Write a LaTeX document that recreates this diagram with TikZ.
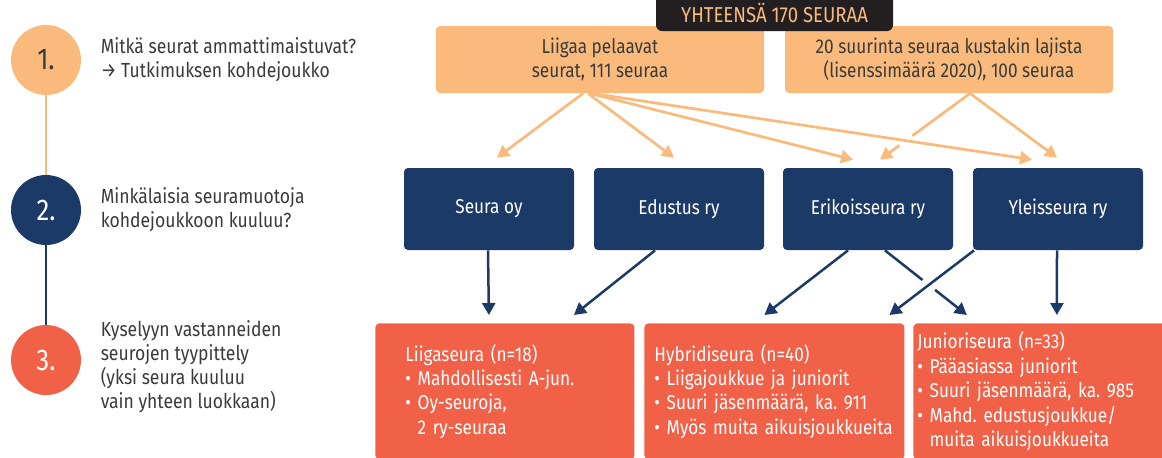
\documentclass[tikz,border=0pt]{standalone}
\usepackage{fontspec}
\setmainfont{Fira Sans}[FakeStretch=0.86]
\usetikzlibrary{positioning, calc, intersections, arrows.meta}

\definecolor{peach}{HTML}{F9BA7C}
\definecolor{navy}{HTML}{1C3A68}
\definecolor{coral}{HTML}{F06148}
\definecolor{ink}{HTML}{231F20}
\definecolor{textgray}{HTML}{3A3A3A}

\begin{document}
\frenchspacing
\begin{tikzpicture}[x=0.5pt, y=-0.5pt,
    stepdot/.style={circle, minimum size=35pt, inner sep=0pt, font=\fontsize{15}{15}\selectfont},
    steptext/.style={inner sep=0pt, align=left, text=textgray, font=\fontsize{10.2}{12}\selectfont},
    sourcebox/.style={fill=peach, rounded corners=2pt, minimum width=164pt, minimum height=33.5pt,
      align=center, text=textgray, font=\fontsize{10}{12}\selectfont},
    formbox/.style={fill=navy, rounded corners=2pt, minimum width=85pt, minimum height=41pt,
      text=white, font=\fontsize{10}{12}\selectfont},
    typebox/.style={fill=coral, rounded corners=2pt, minimum height=68pt, anchor=north west,
      align=left, text=white, font=\fontsize{10}{12.2}\selectfont},
    peacharrow/.style={draw=peach, line width=1.35pt, -{Triangle[length=6pt, width=6.5pt]}},
    navyarrow/.style={draw=navy, line width=1.25pt, -{Triangle[length=6pt, width=6.5pt]}}
  ]
    \useasboundingbox (0,0) rectangle (1162,457);
    \clip (0,0) rectangle (1162,457);

    % left column
    \node [stepdot, fill=peach, text=textgray] (one) at (46,60) {1.};
    \node [stepdot, fill=navy, text=white] (two) at (46,210) {2.};
    \node [stepdot, fill=coral, text=white] (three) at (46,360) {3.};
    \draw [peach, line width=1pt] (one) to (two);
    \draw [navy, line width=1pt] (two) to (three);

    \node [steptext, right=9.5pt of one] (onetext) {Mitkä seurat ammattimaistuvat?\\→ Tutkimuksen kohdejoukko};
    \node [steptext, right=9.5pt of two] (twotext) {Minkälaisia seuramuotoja\\kohdejoukkoon kuuluu?};
    \node [steptext, right=9.5pt of three, yshift=-3.5pt] (threetext) {Kyselyyn vastanneiden\\seurojen tyypittely\\(yksi seura kuuluu\\vain yhteen luokkaan)};

    % sources
    \node [sourcebox] (liigat) at (600,59.5) {Liigaa pelaavat\\seurat, 111 seuraa};
    \node [sourcebox] (suurimmat) at (949,59.5) {20 suurinta seuraa kustakin lajista\\(lisenssimäärä 2020), 100 seuraa};
    \node [fill=ink, rounded corners=3pt, minimum width=118.5pt, minimum height=18pt, text=peach,
      font=\fontsize{10.8}{12}\selectfont] (yhteensa) at (774.5,13) {YHTEENSÄ 170 SEURAA};

    % club forms
    \node [formbox] (seuraoy) at (489,209) {Seura oy};
    \node [formbox] (edustus) at (679,209) {Edustus ry};
    \node [formbox] (erikois) at (868,209) {Erikoisseura ry};
    \node [formbox] (yleis) at (1058,209) {Yleisseura ry};

    % types
    \node [typebox, text width=99.5pt, inner xsep=15pt] (liigaseura) at (375,323)
      {Liigaseura (n=18)\\• Mahdollisesti A-jun.\\• Oy-seuroja,\\\hphantom{• }2 ry-seuraa};
    \node [typebox, text width=120pt, inner xsep=5pt] (hybridi) at (644,323)
      {Hybridiseura (n=40)\\• Liigajoukkue ja juniorit\\• Suuri jäsenmäärä, ka. 911\\• Myös muita aikuisjoukkueita};
    \node [typebox, text width=125.5pt, inner xsep=2pt] (juniori) at (913,323)
      {Junioriseura (n=33)\\• Pääasiassa juniorit\\• Suuri jäsenmäärä, ka. 985\\• Mahd. edustusjoukkue/\\\hphantom{• }muita aikuisjoukkueita};

    % peach arrows
    \draw [peacharrow] ($(liigat.south)+(-17,0)$) to ($(seuraoy.north)+(8,-10)$);
    \draw [peacharrow] ($(liigat.south)+(-12,0)$) to ($(edustus.north)+(-5,-10)$);
    \draw [peacharrow] ($(liigat.south)+(-10,0)$) to ($(erikois.north)+(-15,-8)$);
    \draw [peacharrow] ($(liigat.south)+(-8,0)$) to ($(yleis.north)+(-26,-8)$);
    \draw [peacharrow] ($(suurimmat.south)+(21,0)$) to ($(yleis.north)+(-1,-10)$);

    \coordinate (sa) at ($(suurimmat.south)+(21,0)$);
    \coordinate (ea) at ($(erikois.north)+(12,-8)$);
    \path [name path=overa] ($(liigat.south)+(-8,0)$) to ($(yleis.north)+(-26,-8)$);
    \path [name path=undera] (sa) to (ea);
    \path [name intersections={of=overa and undera, by=crossa}];
    \draw [peach, line width=1.35pt] (sa) to ($(crossa)!4pt!(sa)$);
    \draw [peacharrow] ($(crossa)!4pt!(ea)$) to (ea);

    % navy arrows
    \draw [navyarrow] ($(seuraoy.south)+(-1,0)$) to ($(liigaseura.north)+(-16,-8)$);
    \draw [navyarrow] ($(edustus.south)+(-24,0)$) to ($(liigaseura.north)+(69,-8)$);
    \draw [navyarrow] ($(erikois.south)+(-20,0)$) to ($(hybridi.north)+(-10,-8)$);
    \draw [navyarrow] ($(yleis.south)+(-84,0)$) to ($(hybridi.north)+(115,-8)$);
    \draw [navyarrow] ($(yleis.south)+(-1,0)$) to ($(juniori.north)+(14,-8)$);

    \coordinate (sb) at ($(erikois.south)+(17,0)$);
    \coordinate (eb) at ($(juniori.north)+(-76,-8)$);
    \path [name path=overb] ($(yleis.south)+(-84,0)$) to ($(hybridi.north)+(115,-8)$);
    \path [name path=underb] (sb) to (eb);
    \path [name intersections={of=overb and underb, by=crossb}];
    \draw [navy, line width=1.25pt] (sb) to ($(crossb)!4pt!(sb)$);
    \draw [navyarrow] ($(crossb)!4pt!(eb)$) to (eb);
\end{tikzpicture}
\end{document}
